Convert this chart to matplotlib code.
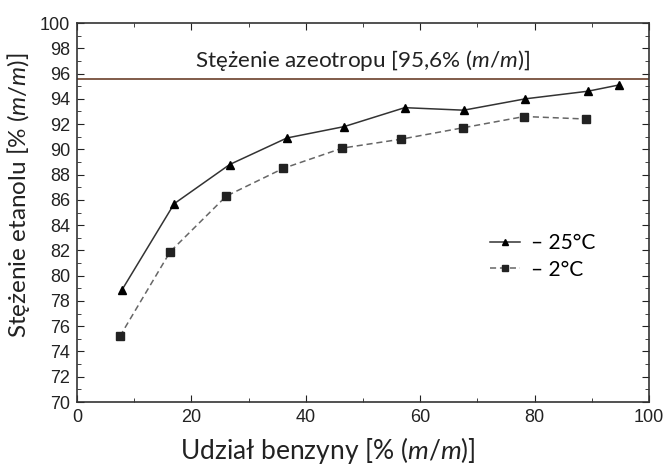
import matplotlib.pyplot as plt
from matplotlib.ticker import MultipleLocator

# dane
x_25 = [7.9, 17.0, 26.7, 36.7, 46.7, 57.3, 67.6, 78.4, 89.3, 94.8]
y_25 = [78.9, 85.7, 88.8, 90.9, 91.8, 93.3, 93.1, 94.0, 94.6, 95.1]
x_2 = [7.5, 16.3, 26.1, 36.1, 46.4, 56.6, 67.4, 78.2, 89.0]
y_2 = [75.2, 81.9, 86.3, 88.5, 90.1, 90.8, 91.7, 92.6, 92.4]
azeotrop = 95.6
labels = ['– 25°C', '– 2°C']

plt.rcParams['font.family'] = 'Liberation Sans'
plt.rcParams['mathtext.fontset'] = 'custom'
plt.rcParams['mathtext.rm'] = 'Lato'
plt.rcParams['mathtext.it'] = 'Lato:italic'

fig = plt.figure(figsize=(6.67, 4.66), dpi=100)
ax = fig.add_axes([0.1154, 0.1373, 0.8576, 0.8133])

ax.plot(x_25, y_25, color='#333333', linewidth=1.1, marker='^', markersize=6,
        markerfacecolor='black', markeredgecolor='black', label=labels[0])
ax.plot(x_2, y_2, color='#666666', linewidth=1.1, linestyle=(0, (4, 2.5)),
        marker='s', markersize=6, markerfacecolor='#222222',
        markeredgecolor='#222222', label=labels[1])

ax.axhline(azeotrop, color='#6b3f2a', linewidth=1.2)
ax.text(50, 97.0, 'Stężenie azeotropu [95,6% ($m$/$m$)]', ha='center', va='center',
        fontsize=16.2, family='Lato', color='#222222')

ax.set_xlim(0, 100)
ax.set_ylim(70, 100)
ax.xaxis.set_major_locator(MultipleLocator(20))
ax.xaxis.set_minor_locator(MultipleLocator(10))
ax.yaxis.set_major_locator(MultipleLocator(2))
ax.yaxis.set_minor_locator(MultipleLocator(1))
ax.tick_params(which='both', direction='in', top=True, right=True,
               labeltop=False, labelright=False, labelsize=13, pad=5,
               colors='#222222')
ax.tick_params(which='major', length=5)
ax.tick_params(which='minor', length=3)

for sp in ax.spines.values():
    sp.set_color('#333333')
    sp.set_linewidth(1.2)

ax.set_xlabel('Udział benzyny [% ($m$/$m$)]', fontsize=19, family='Lato',
              color='#222222')
ax.set_ylabel('Stężenie etanolu [% ($m$/$m$)]', fontsize=17.5, family='Lato',
              color='#222222')
ax.xaxis.set_label_coords(0.439, -0.086)
ax.yaxis.set_label_coords(-0.078, 0.546)

ax.legend(loc='center left', bbox_to_anchor=(0.69, 0.384), frameon=False,
          prop={'family': 'Lato', 'size': 15}, handlelength=1.4,
          markerscale=0.75, labelspacing=0.3, handletextpad=0.55)

fig.savefig('out.png', dpi=100, facecolor='white')
